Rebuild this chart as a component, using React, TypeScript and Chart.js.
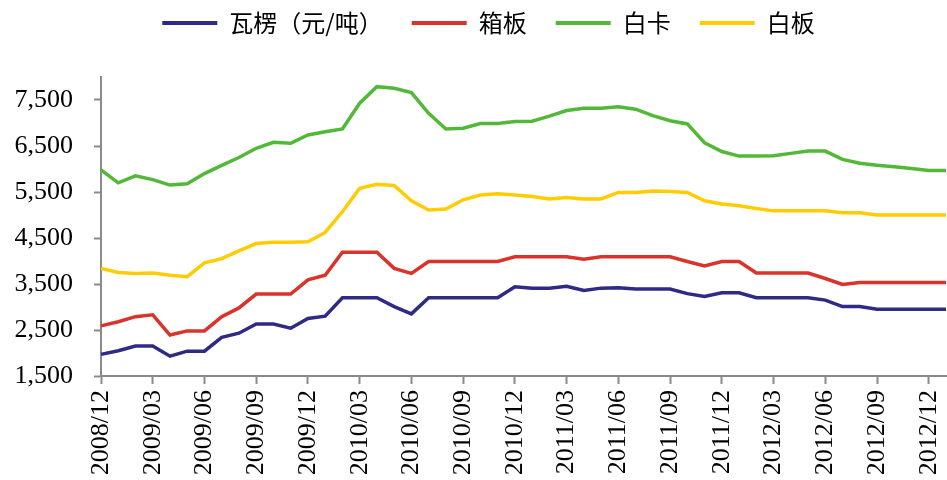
import React, { useEffect, useRef } from "react";
import { Chart, registerables } from "chart.js";

Chart.register(...registerables);

const months: string[] = [
  "2008/12",
  "2009/01", "2009/02", "2009/03", "2009/04", "2009/05", "2009/06", "2009/07", "2009/08", "2009/09", "2009/10", "2009/11", "2009/12",
  "2010/01", "2010/02", "2010/03", "2010/04", "2010/05", "2010/06", "2010/07", "2010/08", "2010/09", "2010/10", "2010/11", "2010/12",
  "2011/01", "2011/02", "2011/03", "2011/04", "2011/05", "2011/06", "2011/07", "2011/08", "2011/09", "2011/10", "2011/11", "2011/12",
  "2012/01", "2012/02", "2012/03", "2012/04", "2012/05", "2012/06", "2012/07", "2012/08", "2012/09", "2012/10", "2012/11", "2012/12",
  "2013/01",
];

const corrugated: number[] = [
  1970, 2050, 2150, 2150, 1930, 2040, 2040, 2340, 2430, 2630, 2630, 2540, 2750,
  2800, 3200, 3200, 3200, 3010, 2850, 3200, 3200, 3200, 3200, 3200, 3440,
  3410, 3410, 3450, 3360, 3410, 3420, 3390, 3390, 3390, 3290, 3230, 3310,
  3310, 3200, 3200, 3200, 3200, 3150, 3010, 3010, 2950, 2950, 2950, 2950,
  2950,
];

const boxboard: number[] = [
  2590, 2680, 2790, 2830, 2390, 2480, 2480, 2790, 2980, 3280, 3280, 3280, 3590,
  3690, 4190, 4190, 4190, 3840, 3730, 3990, 3990, 3990, 3990, 3990, 4090,
  4090, 4090, 4090, 4040, 4090, 4090, 4090, 4090, 4090, 3990, 3890, 3990,
  3990, 3740, 3740, 3740, 3740, 3620, 3490, 3530, 3530, 3530, 3530, 3530,
  3530,
];

const whiteCard: number[] = [
  5980, 5700, 5850, 5770, 5650, 5680, 5900, 6080, 6250, 6450, 6580, 6560, 6740,
  6810, 6870, 7430, 7790, 7755, 7660, 7210, 6870, 6885, 6990, 6990, 7035,
  7040, 7150, 7270, 7320, 7320, 7355, 7300, 7160, 7050, 6980, 6570, 6380,
  6280, 6280, 6290, 6340, 6390, 6390, 6210, 6125, 6080, 6050, 6010, 5970,
  5970,
];

const whiteBoard: number[] = [
  3840, 3750, 3730, 3740, 3690, 3660, 3960, 4050, 4220, 4380, 4410, 4410, 4420,
  4620, 5070, 5580, 5670, 5640, 5310, 5110, 5130, 5330, 5435, 5460, 5435,
  5400, 5350, 5380, 5350, 5350, 5490, 5490, 5520, 5510, 5490, 5310, 5240,
  5200, 5140, 5090, 5090, 5090, 5090, 5050, 5050, 5000, 5000, 5000, 5000,
  5000,
];

const seriesNames: string[] = ["瓦楞（元/吨）", "箱板", "白卡", "白板"];
const seriesColors: string[] = ["#2E2A86", "#D9332B", "#52B837", "#FFCC00"];

const yMin = 1500;
const yMax = 8000;
const yTickValues: number[] = [1500, 2500, 3500, 4500, 5500, 6500, 7500];

const legendLayout = {
  id: "legendLayout",
  beforeLayout(chart: any) {
    const lg = chart.legend;
    if (lg && !lg.__patched) {
      const orig = lg.fit.bind(lg);
      lg.fit = function () {
        orig();
        this.height = 77;
      };
      lg.__patched = true;
    }
  },
  afterLayout(chart: any) {
    const lg = chart.legend;
    if (lg) {
      lg.top = -18;
      lg.bottom = lg.top + lg.height;
      lg.left = 30;
      lg.right = 947;
      lg.width = 917;
    }
  },
};

export default function App() {
  const canvasRef = useRef<HTMLCanvasElement | null>(null);

  useEffect(() => {
    if (!canvasRef.current) return;
    const allSeries = [corrugated, boxboard, whiteCard, whiteBoard];
    const axisColor = "#8a8a8a";
    const chart = new Chart(canvasRef.current, {
      type: "line",
      data: {
        labels: months,
        datasets: allSeries.map((d, i) => ({
          label: seriesNames[i],
          data: d,
          borderColor: seriesColors[i],
          backgroundColor: seriesColors[i],
          borderWidth: 3.5,
          pointRadius: 0,
          tension: 0,
          fill: false,
        })),
      },
      plugins: [legendLayout],
      options: {
        animation: false,
        responsive: false,
        maintainAspectRatio: false,
        layout: { padding: { left: 0, right: 1, top: 0, bottom: 0 } },
        plugins: {
          tooltip: { enabled: false },
          legend: {
            display: true,
            position: "top",
            labels: {
              boxWidth: 55,
              boxHeight: 4,
              padding: 29,
              color: "#000",
              font: { family: "'Noto Sans CJK SC', sans-serif", size: 24 },
              generateLabels: (ch: any) => {
                const items = Chart.defaults.plugins.legend.labels.generateLabels(ch);
                return items.map((it: any) => ({ ...it, lineWidth: 0, fillStyle: it.strokeStyle }));
              },
            },
          },
        },
        scales: {
          x: {
            type: "category",
            offset: false,
            border: { display: true, color: axisColor, width: 2 },
            grid: {
              display: true,
              drawOnChartArea: false,
              drawTicks: true,
              tickLength: 8,
              tickWidth: 2,
              tickColor: (c: any) => (c.index % 3 === 0 ? axisColor : "rgba(0,0,0,0)"),
            },
            ticks: {
              autoSkip: false,
              minRotation: 90,
              maxRotation: 90,
              padding: 6,
              color: "#000",
              font: { family: "'Liberation Serif', 'Times New Roman', serif", size: 26 },
              callback: (_v: any, i: number) => (i % 3 === 0 ? months[i] : ""),
            },
            afterFit: (s: any) => {
              s.height = 104;
              s.paddingLeft = 0;
              s.paddingRight = 0;
            },
          },
          y: {
            min: yMin,
            max: yMax,
            border: { display: true, color: axisColor, width: 2 },
            grid: {
              display: true,
              drawOnChartArea: false,
              drawTicks: true,
              tickLength: 7,
              tickWidth: 2,
              tickColor: axisColor,
            },
            ticks: {
              padding: 21,
              color: "#000",
              font: { family: "'Liberation Serif', 'Times New Roman', serif", size: 26 },
              callback: (v: any) => Number(v).toLocaleString("en-US"),
            },
            afterBuildTicks: (s: any) => {
              s.ticks = yTickValues.map((v) => ({ value: v }));
            },
            afterFit: (s: any) => {
              s.width = 101;
              s.paddingTop = 0;
              s.paddingBottom = 0;
            },
          },
        },
      },
    });
    return () => chart.destroy();
  }, []);

  return (
    <div style={{ position: "fixed", left: 0, top: 0, width: 947, height: 480, background: "#fff" }}>
      <canvas ref={canvasRef} width={947} height={480} style={{ width: 947, height: 480, display: "block" }} />
    </div>
  );
}
